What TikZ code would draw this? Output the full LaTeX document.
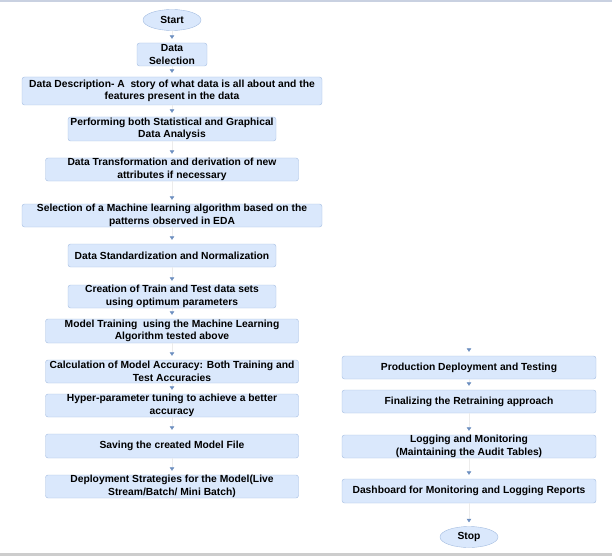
\documentclass[tikz,border=0pt]{standalone}
\usepackage{fontspec}
\setmainfont{Liberation Sans}
\usetikzlibrary{arrows.meta, shapes.geometric}
\definecolor{boxfill}{HTML}{DAE8FC}
\definecolor{boxline}{HTML}{A3BCE0}
\definecolor{tipblue}{HTML}{6C8EBF}
\definecolor{linegray}{HTML}{ECECEC}
\definecolor{topband}{HTML}{C9D1E1}
\definecolor{botband}{HTML}{CDCDCD}
\tikzset{
  stepbox/.style={draw=boxline, fill=boxfill, rounded corners=2.5pt, inner sep=0pt, align=center,
    font=\fontsize{10.3}{12.6}\selectfont\bfseries},
  termbox/.style={ellipse, draw=boxline, fill=boxfill, inner sep=0pt,
    minimum width=58pt, minimum height=21pt, font=\fontsize{10.3}{12}\selectfont\bfseries},
  flow/.style={draw=linegray, line width=0.5pt, shorten >=4pt,
    -{Triangle[width=4.5pt, length=3.5pt, color=tipblue]}}
}

\begin{document}
\begin{tikzpicture}[x=1pt, y=-1pt]
      \useasboundingbox (0,0) rectangle (612,556);
      % Frame bands
      \fill[topband] (0,0) rectangle (612,2.5);
      \fill[botband] (0,553) rectangle (612,556);

      % Left column: from data to deployment
      \node[termbox] (start) at (172,20) {Start};
      \node[stepbox, minimum width=70pt, minimum height=23pt] (sel) at (172,54.5) {Data\\Selection};
      \node[stepbox, minimum width=300pt, minimum height=28pt] (desc) at (172,91)
        {Data Description- A \ story of what data is all about and the\\features present in the data};
      \node[stepbox, minimum width=208pt, minimum height=24pt] (eda) at (172,129)
        {Performing both Statistical and Graphical\\Data Analysis};
      \node[stepbox, minimum width=253pt, minimum height=23pt] (trans) at (172,169.5)
        {Data Transformation and derivation of new\\attributes if necessary};
      \node[stepbox, minimum width=300pt, minimum height=23pt] (algo) at (172,215.5)
        {Selection of a Machine learning algorithm based on the\\patterns observed in EDA};
      \node[stepbox, minimum width=208pt, minimum height=23pt] (norm) at (172,255.5)
        {Data Standardization and Normalization};
      \node[stepbox, minimum width=208pt, minimum height=23pt] (split) at (172,296.5)
        {Creation of Train and Test data sets\\using optimum parameters};
      \node[stepbox, minimum width=253pt, minimum height=24pt] (train) at (172,331)
        {Model Training \ using the Machine Learning\\Algorithm tested above};
      \node[stepbox, minimum width=253pt, minimum height=23pt] (acc) at (172,371.5)
        {Calculation of Model Accuracy: Both Training and\\Test Accuracies};
      \node[stepbox, minimum width=253pt, minimum height=23pt] (tune) at (172,405.5)
        {Hyper-parameter tuning to achieve a better\\accuracy};
      \node[stepbox, minimum width=253pt, minimum height=24pt] (save) at (172,446)
        {Saving the created Model File};
      \node[stepbox, minimum width=253pt, minimum height=23pt] (deploy) at (172,486.5)
        {Deployment Strategies for the Model(Live\\Stream/Batch/ Mini Batch)};

      % Right column: production and monitoring
      \coordinate (prodin) at (469,346);
      \node[stepbox, minimum width=254pt, minimum height=23pt] (prod) at (469,367.5)
        {Production Deployment and Testing};
      \node[stepbox, minimum width=254pt, minimum height=23pt] (retrain) at (469,401.5)
        {Finalizing the Retraining approach};
      \node[stepbox, minimum width=254pt, minimum height=23pt] (audit) at (469,446.5)
        {Logging and Monitoring\\(Maintaining the Audit Tables)};
      \node[stepbox, minimum width=254pt, minimum height=24pt] (dash) at (469,491)
        {Dashboard for Monitoring and Logging Reports};
      \node[termbox] (stop) at (469,537) {Stop};

      % Connectors
      \draw[flow] (start) -- (sel);
      \draw[flow] (sel) -- (desc);
      \draw[flow] (desc) -- (eda);
      \draw[flow] (eda) -- (trans);
      \draw[flow] (trans) -- (algo);
      \draw[flow] (algo) -- (norm);
      \draw[flow] (norm) -- (split);
      \draw[flow] (split) -- (train);
      \draw[flow] (train) -- (acc);
      \draw[flow] (acc) -- (tune);
      \draw[flow] (tune) -- (save);
      \draw[flow] (save) -- (deploy);
      \draw[flow, draw=white] (prodin) -- (prod);
      \draw[flow] (prod) -- (retrain);
      \draw[flow] (retrain) -- (audit);
      \draw[flow] (audit) -- (dash);
      \draw[flow] (dash) -- (stop);
    \end{tikzpicture}
\end{document}
